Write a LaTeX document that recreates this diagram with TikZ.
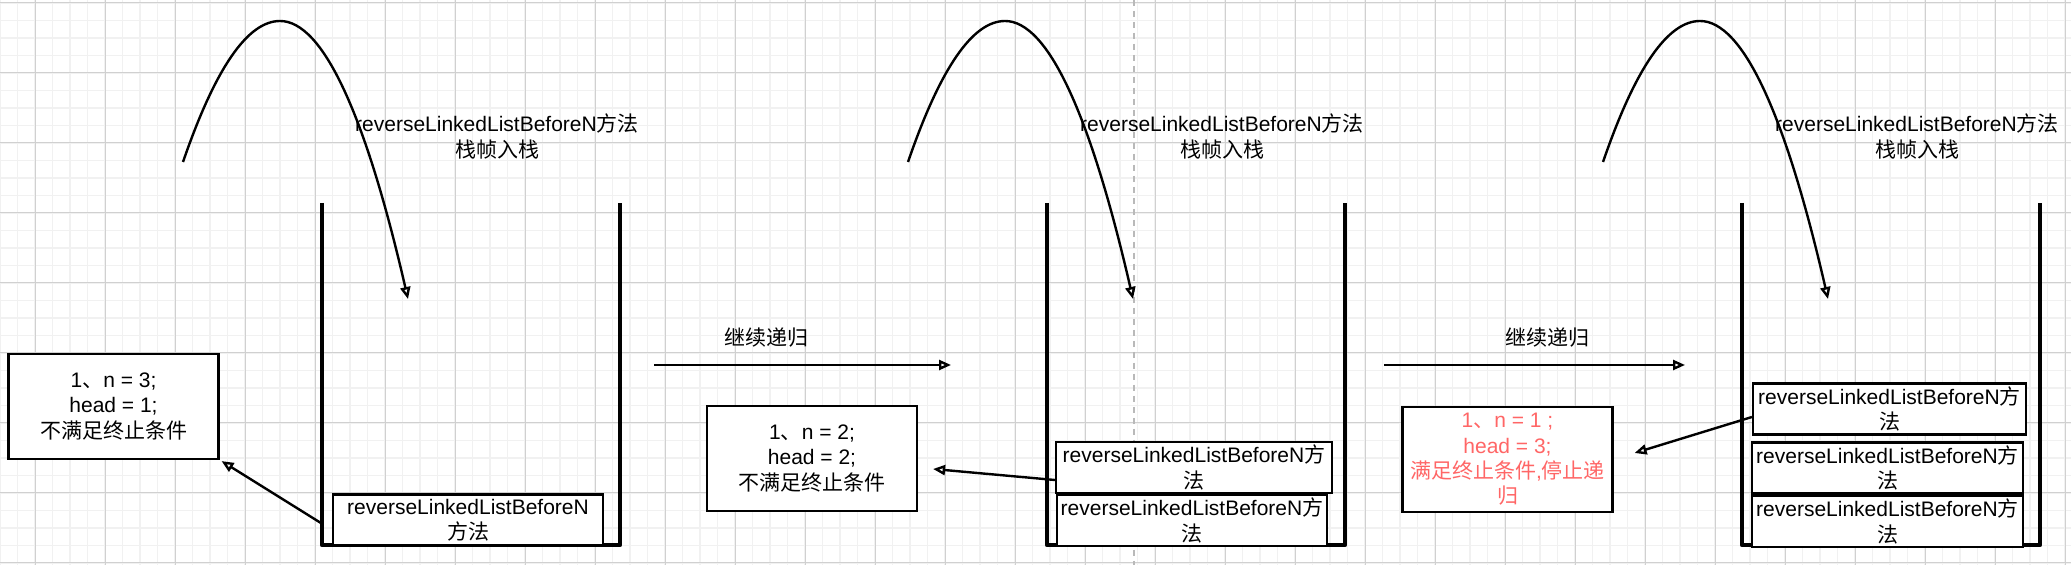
\documentclass[tikz,border=0pt]{standalone}
\usepackage{fontspec}
\setmainfont{Liberation Sans}
\newfontfamily\cjk{Noto Sans CJK SC}
\usetikzlibrary{arrows.meta,calc}

\definecolor{stopred}{HTML}{FF6666}
\definecolor{gridmajor}{HTML}{D0D0D0}
\definecolor{gridminor}{HTML}{F1F1F1}
\newcommand{\meth}{reverseLinkedListBeforeN}

\tikzset{
  wall/.style={line width=2.4pt, line join=round},
  frame/.style={draw, fill=white, line width=1.1pt, inner sep=0pt, align=center},
  stackbox/.style={frame, minimum width=136pt, minimum height=25.5pt},
  infobox/.style={frame, minimum width=105pt, minimum height=52.5pt},
  push/.style={line width=1.2pt, -{Triangle[open, length=6pt, width=5pt]}},
  ret/.style={line width=1.2pt, -{Triangle[open, length=6pt, width=5pt]}},
}

\begin{document}
\begin{tikzpicture}[x=0.5pt, y=-0.5pt, every node/.style={font=\fontsize{10.5}{12.7}\selectfont}]
        \useasboundingbox (0,0) rectangle (2071,565);
        \fill[white] (0,0) rectangle (2071,565);
        % grid
        \foreach \x in {0,17.5,...,2071} \draw[gridminor, line width=0.6pt] (\x,0) -- (\x,565);
        \foreach \y in {3,20.5,...,565} \draw[gridminor, line width=0.6pt] (0,\y) -- (2071,\y);
        \foreach \x in {35,105,...,2071} \draw[gridmajor, line width=0.5pt] (\x,0) -- (\x,565);
        \foreach \y in {3,73,...,565} \draw[gridmajor, line width=0.5pt] (0,\y) -- (2071,\y);
        \draw[gray!55, line width=0.6pt, dash pattern=on 3pt off 2.5pt] (1134,0) -- (1134,565);

        % one stack per call
        \foreach \o / \n in {0/1,725/2,1420/3} {
            \coordinate (a\n) at (\o+183,162);
            \coordinate (t\n) at (\o+408,299);
            \draw[push] (a\n) .. controls (\o+215.3,68) and (\o+247.7,21) .. (\o+280,21)
              .. controls (\o+322.7,21) and (\o+365.3,113.7) .. (t\n);
            \node[align=center] (lbl\n) at (\o+497,136.5) {\meth{\cjk 方法}\\{\cjk 栈帧入栈}};
            \draw[wall] (\o+322,203) -- (\o+322,545) -- (\o+620,545) -- (\o+620,203);
        };

        % frames
        \node[stackbox, minimum width=135pt] (s1a) at (468,520) {\meth\\{\cjk 方法}};
        \node[stackbox, minimum width=138pt] (s2b) at (1194,467.5) {\meth{\cjk 方}\\{\cjk 法}};
        \node[stackbox, minimum width=135pt] (s2a) at (1192,520.5) {\meth{\cjk 方}\\{\cjk 法}};
        \node[stackbox, minimum width=136.5pt] (s3c) at (1889.5,409) {\meth{\cjk 方}\\{\cjk 法}};
        \node[stackbox, minimum width=135.5pt] (s3b) at (1887.5,468) {\meth{\cjk 方}\\{\cjk 法}};
        \node[stackbox, minimum width=135.5pt] (s3a) at (1887.5,521.5) {\meth{\cjk 方}\\{\cjk 法}};

        % state of each call
        \node[infobox] (info1) at (113.5,406.5) {1{\cjk 、}n = 3;\\head = 1;\\{\cjk 不满足终止条件}};
        \node[infobox] (info2) at (812,458.5) {1{\cjk 、}n = 2;\\head = 2;\\{\cjk 不满足终止条件}};
        \node[infobox, text=stopred] (info3) at (1507.5,459.5) {1{\cjk 、}n = 1 ;\\head = 3;\\{\cjk 满足终止条件},{\cjk 停止递}\\{\cjk 归}};

        \draw[ret] ($(s1a.west)+(-11,3)$) -- ($(info1.south east)+(2,1)$);
        \draw[ret] ($(s2b.west)+(0,12.5)$) -- ($(info2.east)+(15,10.5)$);
        \draw[ret] ($(s3c.west)+(0,8)$) -- ($(info3.east)+(21,-6.5)$);

        % next call
        \coordinate (g1s) at (654,365);
        \coordinate (g1e) at (951,365);
        \coordinate (g2s) at (1384,365);
        \coordinate (g2e) at (1685,365);
        \draw[push] (g1s) -- (g1e);
        \draw[push] (g2s) -- (g2e);
        \node (rec1) at (766,338) {\cjk 继续递归};
        \node (rec2) at (1547,338) {\cjk 继续递归};
    \end{tikzpicture}
\end{document}
